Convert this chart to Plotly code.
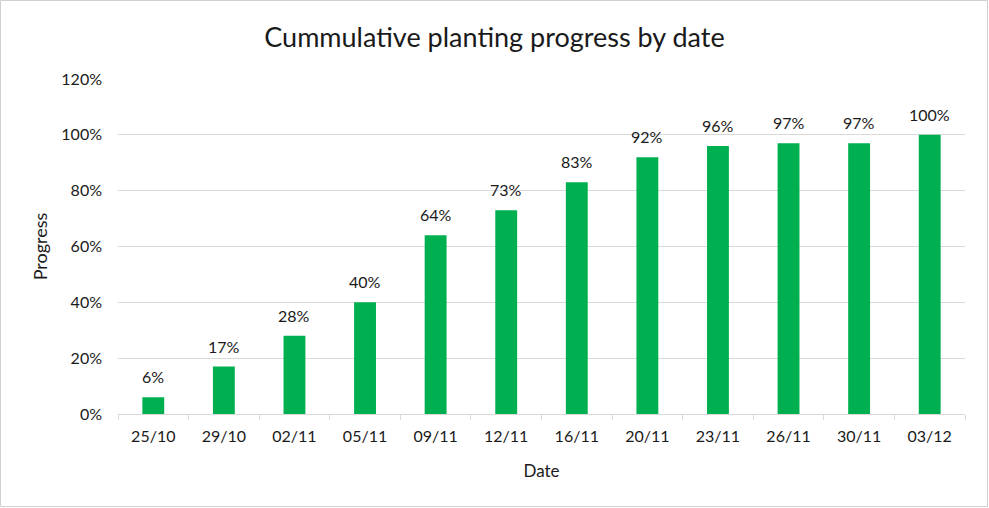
import plotly.graph_objects as go

# Datas e progresso acumulado (%)
datas = ["25/10", "29/10", "02/11", "05/11", "09/11", "12/11",
         "16/11", "20/11", "23/11", "26/11", "30/11", "03/12"]
progresso = [6, 17, 28, 40, 64, 73, 83, 92, 96, 97, 97, 100]
ticks_y = [0, 20, 40, 60, 80, 100, 120]
rotulos_y = [f"{v}%" for v in ticks_y]

W, H = 989, 508
ML, MR, MT, MB = 118, 24, 79, 94
pw, ph = W - ML - MR, H - MT - MB

fonte = "Lato"
cor_texto = "#1a1a1a"

fig = go.Figure()
fig.add_trace(go.Bar(
    x=datas,
    y=progresso,
    marker=dict(color="#00B050", line=dict(width=0)),
    hoverinfo="x+y",
))

# Rótulos de dados acima das barras (um pouco afastados, como no Excel)
for d, v in zip(datas, progresso):
    fig.add_annotation(x=d, y=v, text=f"{v}%", showarrow=False,
                       yanchor="bottom", yshift=9,
                       font=dict(family=fonte, size=16, color=cor_texto))

fig.update_layout(
    width=W, height=H,
    margin=dict(l=ML, r=MR, t=MT, b=MB),
    paper_bgcolor="white",
    plot_bgcolor="white",
    bargap=0.69,
    showlegend=False,
    font=dict(family=fonte, size=16, color=cor_texto),
    title=dict(text="Cummulative planting progress by date",
               x=0.5, xanchor="center", y=1 - 38 / H, yanchor="middle",
               font=dict(family=fonte, size=27, color=cor_texto)),
)

fig.update_xaxes(
    type="category",
    title=dict(text="Date", font=dict(size=17), standoff=20),
    showline=True, linecolor="#d9d9d9", linewidth=1,
    ticks="outside", tickson="boundaries", ticklen=5, tickcolor="#d9d9d9",
    tickfont=dict(size=16), ticklabelstandoff=8,
    showgrid=False,
)
fig.update_yaxes(
    range=[0, 120],
    tickvals=ticks_y, ticktext=rotulos_y,
    tickfont=dict(size=16),
    title=dict(text="Progress", font=dict(size=18), standoff=9),
    showgrid=True, gridcolor="#d9d9d9", gridwidth=1,
    zeroline=False, showline=False,
    ticks="", ticklabelstandoff=15,
)

# Borda em volta do gráfico inteiro
fig.add_shape(type="rect", xref="paper", yref="paper",
              x0=(-ML + 0.5) / pw, x1=1 + (MR - 1.5) / pw,
              y0=(-MB + 1.5) / ph, y1=1 + (MT - 0.5) / ph,
              line=dict(color="#d0d0d0", width=1), layer="below")

fig.write_html("out.html", config={"displayModeBar": False},
               post_script="document.body.style.margin='0';")
